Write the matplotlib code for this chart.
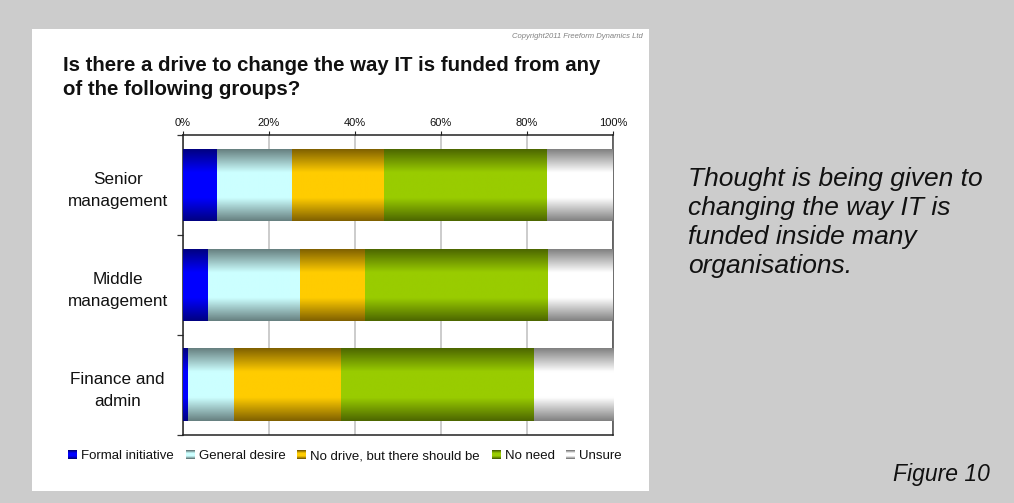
import numpy as np
import matplotlib
matplotlib.use("Agg")
import matplotlib.pyplot as plt
from matplotlib.patches import Rectangle, Patch
from matplotlib.legend_handler import HandlerBase
from matplotlib.ticker import FixedLocator, PercentFormatter

plt.rcParams["font.family"] = ["Liberation Sans", "DejaVu Sans"]

# ---- data (percent of respondents) ----
groups = ["Senior\nmanagement", "Middle\nmanagement", "Finance and\nadmin"]
series = ["Formal initiative", "General desire", "No drive, but there should be",
          "No need", "Unsure"]
formal_initiative = [7.9, 5.8, 1.1]
general_desire = [17.4, 21.4, 10.8]
no_drive_should_be = [21.4, 15.1, 24.8]
no_need = [38.0, 42.6, 44.9]
unsure = [15.3, 15.1, 18.4]
values = [formal_initiative, general_desire, no_drive_should_be, no_need, unsure]
x_ticks = [0, 20, 40, 60, 80, 100]

# (dark edge colour, bright centre colour) for each series' shaded fill
shades = [("#000080", "#0000FF"),
          ("#667F7F", "#CCFFFF"),
          ("#7F6000", "#FFCC00"),
          ("#4C6600", "#99CC00"),
          ("#808080", "#FFFFFF")]


def gradient_profile(n):
    y = np.linspace(0, 1, n)
    return np.clip((1 - np.abs(2 * y - 1)) * 1.55, 0, 1)


def shade_colors(dark, light, n):
    d = np.array(matplotlib.colors.to_rgb(dark))
    l = np.array(matplotlib.colors.to_rgb(light))
    t = gradient_profile(n)[:, None]
    return d * (1 - t) + l * t


class GradientSwatch(Patch):
    def __init__(self, dark, light, label):
        super().__init__(facecolor=light, label=label)
        self.dark = dark
        self.light = light


class GradientSwatchHandler(HandlerBase):
    def create_artists(self, legend, orig_handle, xdescent, ydescent,
                       width, height, fontsize, trans):
        n = 9
        cols = shade_colors(orig_handle.dark, orig_handle.light, n)
        x0, y0 = -xdescent, -ydescent
        step = height / n
        arts = []
        for i, c in enumerate(cols):
            arts.append(Rectangle((x0, y0 + height - (i + 1) * step), width, step * 1.05,
                                  facecolor=c, edgecolor="none", transform=trans))
        return arts


W, H = 1014, 503
fig = plt.figure(figsize=(W / 100, H / 100), dpi=100, facecolor="#CCCCCC")

# white card behind the chart
fig.patches.append(Rectangle((32 / W, 1 - 491 / H), (649 - 32) / W, (491 - 29) / H,
                             transform=fig.transFigure, facecolor="white",
                             edgecolor="none", zorder=-10))

ax = fig.add_axes([183 / W, 1 - 435 / H, (613 - 183) / W, (435 - 135) / H])
ax.set_facecolor("white")

ypos = np.arange(len(groups))
bar_h = 0.72
left = np.zeros(len(groups))
for vals, (dark, light), name in zip(values, shades, series):
    bars = ax.barh(ypos, vals, height=bar_h, left=left, color=light,
                   edgecolor="none", zorder=2, label=name)
    grad = shade_colors(dark, light, 256)[:, None, :]
    for p in bars.patches:
        x0, y0 = p.get_x(), p.get_y()
        ax.imshow(grad, extent=[x0, x0 + p.get_width(), y0 + p.get_height(), y0],
                  aspect="auto", interpolation="bilinear", zorder=3)
    left = left + np.array(vals)

ax.set_xlim(0, 100)
ax.set_ylim(len(groups) - 0.5, -0.5)

# x axis on top
ax.xaxis.set_major_locator(FixedLocator(x_ticks))
ax.xaxis.set_major_formatter(PercentFormatter(decimals=0))
ax.xaxis.tick_top()
ax.tick_params(axis="x", which="major", length=3, width=0.8, color="#222222",
               labelsize=8, pad=2, labelcolor="#111111")
ax.grid(axis="x", color="#C8C8C8", linewidth=1.3, zorder=1)
ax.set_axisbelow(True)

# category labels, ticks between categories
ax.set_yticks(ypos)
ax.set_yticklabels(groups, fontsize=12.3, color="#111111")
for lab in ax.get_yticklabels():
    lab.set_ha("center")
    lab.set_multialignment("center")
    lab.set_linespacing(1.65)
ax.tick_params(axis="y", which="major", length=0, pad=47)
ax.yaxis.set_minor_locator(FixedLocator(np.arange(len(groups) + 1) - 0.5))
ax.tick_params(axis="y", which="minor", length=4, width=0.9, color="#333333")

for s in ax.spines.values():
    s.set_color("#222222")
    s.set_linewidth(1.1)
ax.spines["right"].set_color("#444444")

# legend
handles = [GradientSwatch(d, l, name) for (d, l), name in zip(shades, series)]
fig.legend(handles=handles, loc="center", bbox_to_anchor=(345 / W, 1 - 456 / H),
           ncol=5, frameon=False, fontsize=9.5, handlelength=0.68, handleheight=0.68,
           handletextpad=0.3, columnspacing=0.9, borderaxespad=0,
           handler_map={GradientSwatch: GradientSwatchHandler()},
           labelcolor="#111111")

# titles and notes
fig.text(63 / W, 1 - 56 / H,
         "Is there a drive to change the way IT is funded from any\nof the following groups?",
         fontsize=14.7, fontweight="bold", va="top", ha="left", color="#111111",
         linespacing=1.32)
fig.text(643 / W, 1 - 37 / H, "Copyright2011 Freeform Dynamics Ltd", fontsize=5.5,
         style="italic", color="#808080", ha="right", va="center")
fig.text(688 / W, 1 - 167 / H,
         "Thought is being given to\nchanging the way IT is\nfunded inside many\norganisations.",
         fontsize=19, style="italic", va="top", ha="left", color="#111111",
         linespacing=1.27)
fig.text(990 / W, 1 - 481 / H, "Figure 10", fontsize=16.5, style="italic",
         ha="right", va="baseline", color="#111111")

fig.savefig("out.png", dpi=100, facecolor=fig.get_facecolor())
